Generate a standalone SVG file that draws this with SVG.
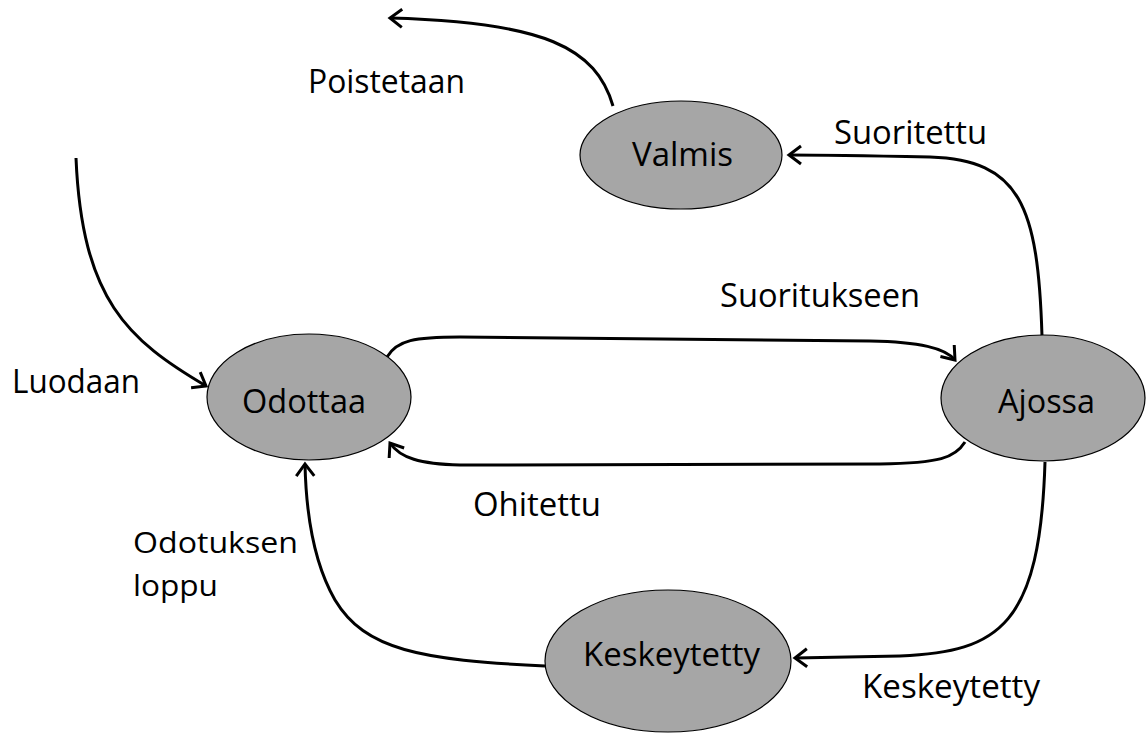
<svg xmlns="http://www.w3.org/2000/svg" width="1147" height="733" viewBox="0 0 1147 733">
<style>
.node{fill:#a6a6a6;stroke:#000;stroke-width:1.2}
.t{font-family:"Open Sans","Liberation Sans",sans-serif;font-size:32px;fill:#000}
.s{font-size:30px}
.c{fill:none;stroke:#000;stroke-width:3;marker-end:url(#arr)}
</style>
<defs>
<marker id="arr" markerUnits="userSpaceOnUse" viewBox="-16 -12 20 24" refX="0" refY="0" markerWidth="20" markerHeight="24" orient="auto">
<path d="M-12,-9 L0,0 L-12,9" fill="none" stroke="#000" stroke-width="3"/>
</marker>
</defs>
<rect width="1147" height="733" fill="#fff"/>
<g id="connectors">
<path class="c" d="M613,106 C596,48 545,22 390,18"/>
<path class="c" d="M76,158 C82,300 128,340 206,386"/>
<path class="c" d="M387,357 C397,340 415,337 460,337 L870,341 C920,342 945,348 955,360"/>
<path class="c" d="M965,442 C955,458 940,463 880,464 L460,465 C420,464 400,458 390,443"/>
<path class="c" d="M1042,336 C1038,205 1020,160 930,157 C880,156 830,155 789,155"/>
<path class="c" d="M1045,462 C1040,625 1000,652 900,656 L795,658"/>
<path class="c" d="M545,666 C420,660 365,650 335,600 C312,560 306,510 305,464"/>
</g>
<g id="labels">
<text class="t" x="308" y="93" textLength="157" lengthAdjust="spacingAndGlyphs">Poistetaan</text>
<text class="t" x="834" y="144" textLength="153" lengthAdjust="spacingAndGlyphs">Suoritettu</text>
<text class="t" x="720" y="307" textLength="200" lengthAdjust="spacingAndGlyphs">Suoritukseen</text>
<text class="t" x="12" y="393" textLength="128" lengthAdjust="spacingAndGlyphs">Luodaan</text>
<text class="t" x="473" y="516" textLength="128" lengthAdjust="spacingAndGlyphs">Ohitettu</text>
<text class="t s" x="133" y="553" textLength="165" lengthAdjust="spacingAndGlyphs">Odotuksen</text>
<text class="t s" x="133" y="596" textLength="85" lengthAdjust="spacingAndGlyphs">loppu</text>
<text class="t" x="862" y="698" textLength="178" lengthAdjust="spacingAndGlyphs">Keskeytetty</text>
</g>
<g id="node-valmis">
<ellipse class="node" cx="681" cy="155" rx="101" ry="54"/>
<text class="t" x="632" y="166" textLength="101" lengthAdjust="spacingAndGlyphs">Valmis</text>
</g>
<g id="node-odottaa">
<ellipse class="node" cx="309" cy="397" rx="102" ry="63"/>
<text class="t" x="242" y="413" textLength="124" lengthAdjust="spacingAndGlyphs">Odottaa</text>
</g>
<g id="node-ajossa">
<ellipse class="node" cx="1043" cy="398" rx="102" ry="63"/>
<text class="t" x="998" y="413" textLength="97" lengthAdjust="spacingAndGlyphs">Ajossa</text>
</g>
<g id="node-keskeytetty">
<ellipse class="node" cx="668" cy="661" rx="123" ry="71"/>
<text class="t" x="583" y="666" textLength="177" lengthAdjust="spacingAndGlyphs">Keskeytetty</text>
</g>
</svg>
